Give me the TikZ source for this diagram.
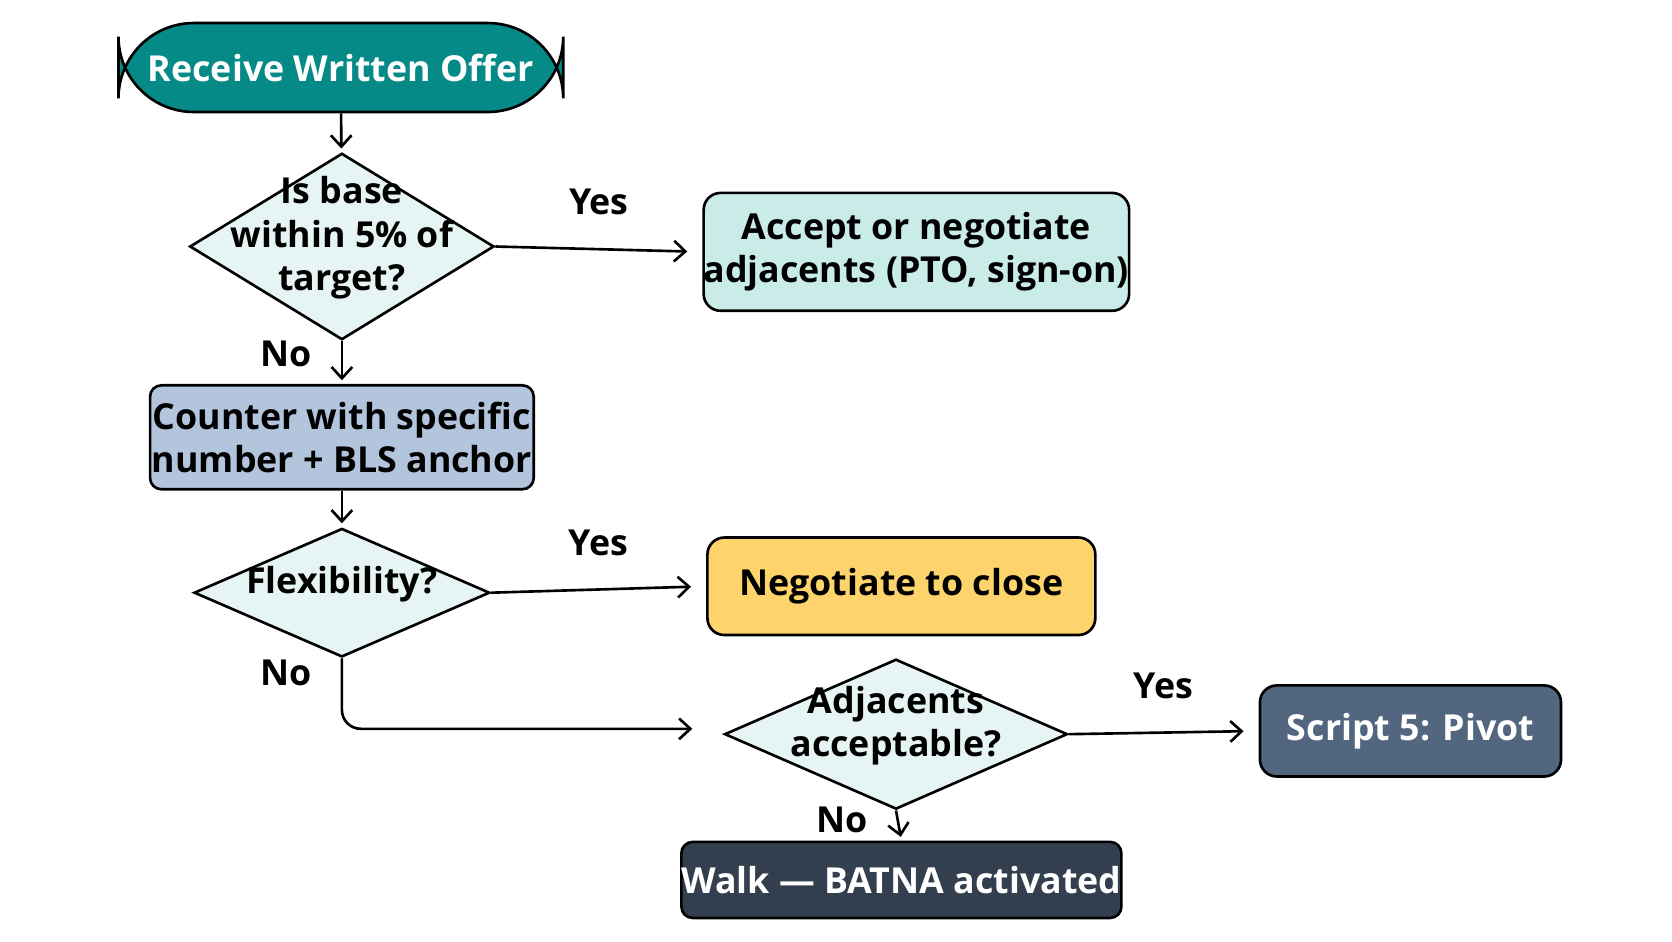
\documentclass[tikz,border=0pt]{standalone}
\usepackage{fontspec}
\setmainfont{Open Sans}
\usetikzlibrary{shapes.geometric, arrows.meta}
\definecolor{teal1}{HTML}{068A87}
\definecolor{mint}{HTML}{C9ECE9}
\definecolor{pale}{HTML}{E6F4F4}
\definecolor{steel}{HTML}{B3C5DC}
\definecolor{gold}{HTML}{FDD46B}
\definecolor{slate}{HTML}{52677F}
\definecolor{night}{HTML}{333F4E}
\newcommand{\dtext}[1]{\makebox[0pt]{\smash{\begin{tabular}{c}#1\end{tabular}}}}
\tikzset{
  box/.style={draw, rounded corners=9pt, align=center, inner sep=0pt},
  decision/.style={draw, diamond, fill=pale, inner sep=0pt},
  lbl/.style={font=\fontsize{19}{22}\selectfont\bfseries}
}

\begin{document}
\begin{tikzpicture}[x=0.02cm,y=-0.02cm,line width=1.4pt,>={Straight Barb[length=6pt,width=11pt]},shorten >=8pt,
    font=\fontsize{19}{23}\selectfont\bfseries]

    \useasboundingbox (0,0) rectangle (1560,878);

    \node[box, rounded corners=40pt, fill=teal1, text=white, minimum width=8.3cm, minimum height=1.66cm] (start) at (318,63) {Receive Written Offer};
    \node[decision, minimum width=5.68cm, minimum height=3.48cm] (base) at (319,230) {\dtext{Is base\\within 5\% of\\target?}};
    \node[box, fill=mint, minimum width=7.8cm, minimum height=2.2cm] (accept) at (855,235) {Accept or negotiate\\adjacents (PTO, sign-on)};
    \node[box, rounded corners=6pt, fill=steel, minimum width=7.16cm, minimum height=1.94cm] (counter) at (319,408) {Counter with specific\\number + BLS anchor};
    \node[decision, minimum width=5.52cm, minimum height=2.4cm] (flex) at (319,553) {\dtext{Flexibility?}};
    \node[box, fill=gold, minimum width=7.24cm, minimum height=1.82cm] (close) at (841,547) {Negotiate to close};
    \node[decision, minimum width=6.4cm, minimum height=2.8cm] (adj) at (836,685) {\dtext{Adjacents\\acceptable?}};
    \node[box, fill=slate, text=white, minimum width=5.62cm, minimum height=1.7cm] (pivot) at (1316,682) {Script 5: Pivot};
    \node[box, rounded corners=6pt, fill=night, text=white, minimum width=7.06cm, minimum height=1.42cm] (walk) at (841,821) {Walk — BATNA activated};
    \coordinate (bend) at (319,680);
    \coordinate (adjin) at (660,680);

    \draw[->, shorten >=2pt] (start) -- (base);
    \draw[->] (base.east) -- node[lbl, above=14pt] {Yes} (accept.west);
    \draw[->, shorten >=2pt] (base.south) -- node[lbl, left=12pt, pos=0.3] {No} (counter.north);
    \draw[->, shorten >=2pt] (counter) -- (flex);
    \draw[->] (flex.east) -- node[lbl, above=14pt] {Yes} (close.west);
    \draw[->, rounded corners=10pt] (flex.south) -- node[lbl, left=12pt, pos=0.2] {No} (bend) -- (adjin);
    \draw[->] (adj.east) -- node[lbl, above=14pt] {Yes} (pivot.west);
    \draw[->, shorten >=2pt] (adj.south) -- node[lbl, left=12pt, pos=0.3] {No} (walk.north);
\end{tikzpicture}
\end{document}
